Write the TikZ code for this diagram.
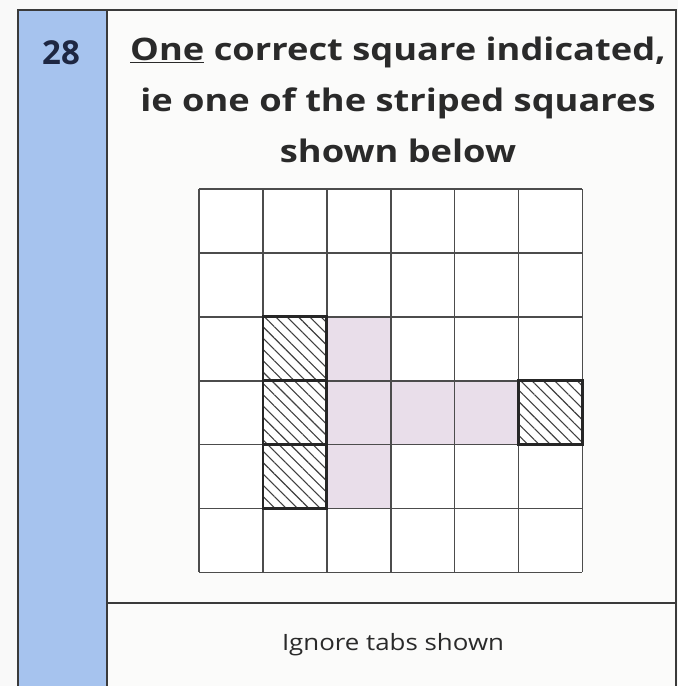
\documentclass[tikz,border=0pt]{standalone}
\usepackage{fontspec}
\setmainfont{Open Sans}
\newfontfamily\notefont{Open Sans}[FakeStretch=1.17]
\newfontfamily\tabsfont{Open Sans}[FakeStretch=1.15]
\usetikzlibrary{patterns.meta}
\definecolor{tabblue}{HTML}{A6C3EE}
\definecolor{framegray}{HTML}{3A3A3A}
\definecolor{inkgray}{HTML}{2A2A2A}
\definecolor{numnavy}{HTML}{1E2742}
\definecolor{shadelilac}{HTML}{E9DEEA}
\definecolor{paper}{HTML}{FBFBFA}
\tikzset{
  gridline/.style={line width=1.6pt, draw=black!70},
  striped/.style={line width=2.8pt, draw=black!85,
    pattern={Lines[angle=-45, distance=8pt, line width=1.1pt]}, pattern color=black!75},
}
\begin{document}
\begin{tikzpicture}[x=1pt, y=-1pt]
  \useasboundingbox (0,0) rectangle (678,686);
  \fill[gray!5] (0,0) rectangle (678,686);

  % Panel
  \fill[paper] (18,10) rectangle (676,686);
  \fill[tabblue] (18,10) rectangle (107,686);
  \draw[framegray, line width=2pt] (18,686) -- (18,10) -- (676,10) -- (676,686);
  \draw[framegray, line width=1.5pt] (107,10) -- (107,686);
  \draw[framegray, line width=1.5pt] (107,603) -- (676,603);

  % Number and marking note
  \node[font=\fontsize{33}{36}\selectfont\bfseries, text=numnavy] (qnum) at (61,53) {28};
  \node[align=center, text=inkgray, font=\notefont\bfseries\fontsize{31}{51}\selectfont] (note) at (398,100)
    {\underline{One} correct square indicated,\\ie one of the striped squares\\shown below};

  % Grid of squares
  \begin{scope}[shift={(199,189)}, x=63.9pt, y=-63.9pt]
    \fill[white] (0,0) rectangle (6,6);
    \foreach \c/\r in {2/2,2/3,2/4,3/3,4/3}
      \fill[shadelilac] (\c,\r) rectangle ++(1,1);
    \foreach \i in {0,...,6} {
      \draw[gridline] (\i,0) -- (\i,6);
      \draw[gridline] (0,\i) -- (6,\i);
    }
    \foreach \c/\r in {1/2,1/3,1/4,5/3}
      \draw[striped] (\c,\r) rectangle ++(1,1);
  \end{scope}

  \node[text=inkgray, font=\tabsfont\fontsize{22.5}{26}\selectfont] (tabs) at (393,645) {Ignore tabs shown};
\end{tikzpicture}
\end{document}
